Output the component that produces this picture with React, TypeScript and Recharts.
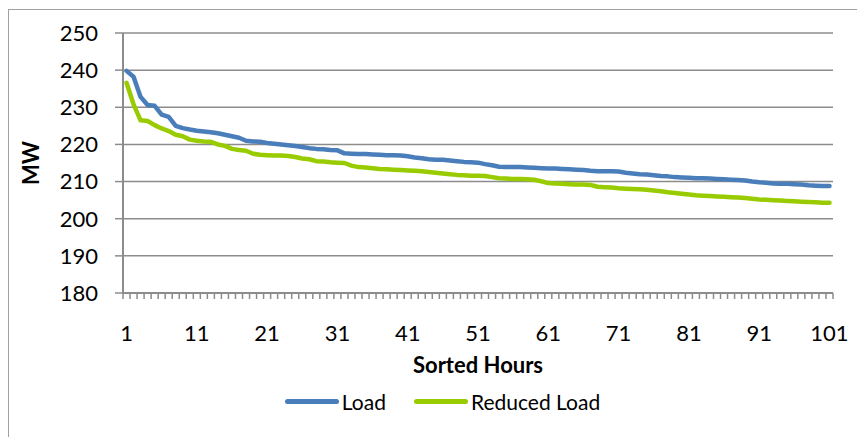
import React from 'react';
import { LineChart, Line, XAxis, YAxis, CartesianGrid, Legend, Label } from 'recharts';

const loadValues = [
  239.8, 238.2, 232.8, 230.6, 230.4, 228.0, 227.4, 225.0, 224.4, 224.0,
  223.7, 223.5, 223.3, 223.0, 222.6, 222.2, 221.8, 221.0, 220.8, 220.7,
  220.4, 220.2, 220.0, 219.8, 219.6, 219.3, 219.0, 218.8, 218.7, 218.5,
  218.4, 217.6, 217.5, 217.4, 217.4, 217.3, 217.2, 217.1, 217.1, 217.0,
  216.8, 216.5, 216.3, 216.0, 215.9, 215.9, 215.7, 215.5, 215.3, 215.2,
  215.1, 214.7, 214.4, 214.0, 213.9, 213.9, 213.9, 213.8, 213.7, 213.6,
  213.5, 213.5, 213.4, 213.3, 213.2, 213.1, 212.9, 212.8, 212.8, 212.8,
  212.7, 212.4, 212.2, 212.0, 211.9, 211.7, 211.5, 211.4, 211.2, 211.1,
  211.0, 210.9, 210.9, 210.8, 210.7, 210.6, 210.5, 210.4, 210.3, 210.0,
  209.8, 209.7, 209.5, 209.4, 209.4, 209.3, 209.2, 209.0, 208.9, 208.8,
  208.8,
];

const reducedValues = [
  236.6, 230.8, 226.5, 226.3, 225.2, 224.3, 223.6, 222.6, 222.2, 221.3,
  221.0, 220.8, 220.7, 220.0, 219.6, 218.8, 218.5, 218.3, 217.5, 217.2,
  217.1, 217.0, 217.0, 216.9, 216.6, 216.2, 216.0, 215.5, 215.4, 215.2,
  215.1, 215.0, 214.3, 213.9, 213.8, 213.6, 213.4, 213.3, 213.2, 213.1,
  213.0, 212.9, 212.8, 212.6, 212.4, 212.2, 212.0, 211.8, 211.7, 211.6,
  211.6, 211.5, 211.2, 210.9, 210.8, 210.7, 210.7, 210.6, 210.5, 210.1,
  209.6, 209.5, 209.4, 209.3, 209.2, 209.2, 209.1, 208.6, 208.5, 208.4,
  208.2, 208.1, 208.0, 207.9, 207.8, 207.6, 207.4, 207.1, 206.9, 206.7,
  206.5, 206.3, 206.2, 206.1, 206.0, 205.9, 205.8, 205.7, 205.6, 205.4,
  205.2, 205.1, 205.0, 204.9, 204.8, 204.7, 204.6, 204.5, 204.4, 204.3,
  204.3,
];

const hours = loadValues.map((_, i) => i + 1);
const xTickLabels = [1, 11, 21, 31, 41, 51, 61, 71, 81, 91, 101];
const yTicks = [180, 190, 200, 210, 220, 230, 240, 250];

const data = hours.map((h, i) => ({ hour: h, load: loadValues[i], reduced: reducedValues[i] }));
const boundaryTicks = [...hours.map((h) => h - 0.5), hours.length + 0.5];
const xDomain = [0.5, hours.length + 0.5];

const CHART_W = 857;
const CHART_H = 429;
const MARGIN = { top: 25, right: 32, left: 0, bottom: 21 };
const Y_AXIS_W = 115;
const PLOT_W = CHART_W - MARGIN.left - MARGIN.right - Y_AXIS_W;

const FONT = 'Lato, "Open Sans", sans-serif';
const AXIS = '#8c8c8c';
const BLUE = '#4a7ebb';
const GREEN = '#99cc00';

const XTick = (props: any) => {
  const { x, y, payload } = props;
  const center = payload.value + 0.5;
  if (!xTickLabels.includes(center)) return <g />;
  const half = PLOT_W / hours.length / 2;
  return (
    <text x={x + half} y={y} dy="0.71em" textAnchor="middle" fontFamily={FONT} fontSize={22} fill="#000">
      {center}
    </text>
  );
};

const renderLegend = (props: any) => {
  const payload = props.payload || [];
  return (
    <div style={{ display: 'flex', justifyContent: 'center', alignItems: 'center', fontFamily: FONT, fontSize: 21, color: '#000', height: 30, paddingLeft: 44 }}>
      {payload.map((p: any, i: number) => (
        <div key={i} style={{ display: 'flex', alignItems: 'center', marginRight: i === 0 ? 28 : 0 }}>
          <div style={{ width: 54, height: 5, borderRadius: 3, background: p.color, marginRight: 3 }} />
          <span>{p.value}</span>
        </div>
      ))}
    </div>
  );
};

const MWLabel = (props: any) => {
  const vb = props.viewBox || { x: 0, y: 0, width: 0, height: 0 };
  const cx = 22;
  const cy = vb.y + vb.height / 2;
  return (
    <text x={cx} y={cy} transform={`rotate(-90, ${cx}, ${cy})`} textAnchor="middle" dominantBaseline="central"
      fontFamily={FONT} fontWeight="bold" fontSize={22} fill="#000">MW</text>
  );
};

export default function App() {
  return (
    <div style={{ position: 'relative', width: CHART_W, height: CHART_H }}>
      <div style={{ position: 'absolute', left: 0, top: 1, width: CHART_W, height: CHART_H - 1, borderLeft: '1px solid #a0a0a0', borderTop: '1px solid #a0a0a0', pointerEvents: 'none' }} />
      <LineChart width={CHART_W} height={CHART_H} data={data} margin={MARGIN}
        style={{ position: 'absolute', left: 0, top: 0 }}>
        <CartesianGrid horizontal vertical={false} stroke={AXIS} strokeWidth={1.5} />
        <XAxis dataKey="hour" type="number" domain={xDomain} ticks={boundaryTicks} interval={0}
          tick={<XTick />} tickSize={6} tickMargin={26} height={93}
          axisLine={{ stroke: AXIS, strokeWidth: 2 }} tickLine={{ stroke: AXIS, strokeWidth: 1.5 }} allowDataOverflow>
          <Label value="Sorted Hours" position="insideBottom" offset={13} style={{ fontFamily: FONT, fontSize: 22, fontWeight: 'bold', fill: '#000' }} />
        </XAxis>
        <YAxis domain={[180, 250]} ticks={yTicks} interval={0} width={Y_AXIS_W} tickSize={8} tickMargin={17}
          axisLine={{ stroke: AXIS, strokeWidth: 2 }} tickLine={{ stroke: AXIS, strokeWidth: 1.5 }}
          tick={{ fontFamily: FONT, fontSize: 22, fill: '#000' }}>
          <Label content={<MWLabel />} />
        </YAxis>
        <Legend verticalAlign="bottom" height={30} content={renderLegend} />
        <Line type="linear" dataKey="load" name="Load" stroke={BLUE} strokeWidth={4.5} dot={false}
          strokeLinejoin="round" strokeLinecap="round" isAnimationActive={false} />
        <Line type="linear" dataKey="reduced" name="Reduced Load" stroke={GREEN} strokeWidth={4.5} dot={false}
          strokeLinejoin="round" strokeLinecap="round" isAnimationActive={false} />
      </LineChart>
    </div>
  );
}
